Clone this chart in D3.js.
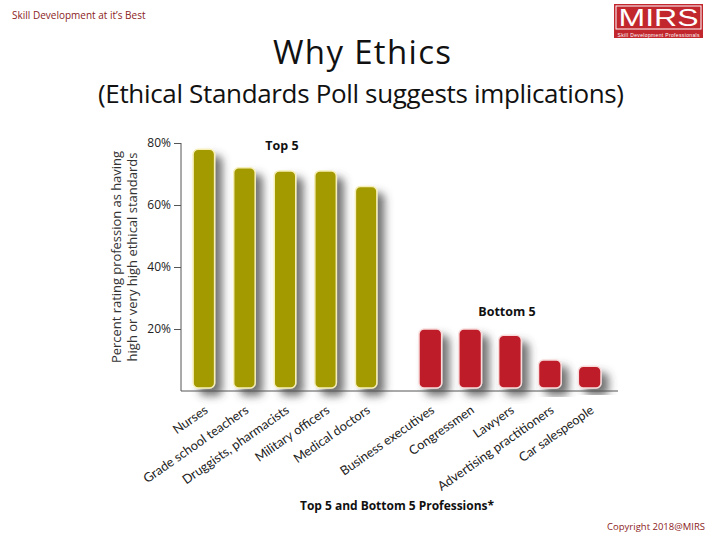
<!DOCTYPE html>
<html>
<head>
<meta charset="utf-8">
<script src="https://cdn.jsdelivr.net/npm/d3@7"></script>
<style>
  body { margin: 0; background: #fff; }
  svg { display: block; }
</style>
</head>
<body>
<svg id="chart" width="720" height="540"></svg>
<script>
// data
let topNames = ["Nurses", "Grade school teachers", "Druggists, pharmacists", "Military officers", "Medical doctors"];
let topValues = [78, 72, 71, 71, 66];
let bottomNames = ["Business executives", "Congressmen", "Lawyers", "Advertising practitioners", "Car salespeople"];
let bottomValues = [20, 20, 18, 10, 8];
let yTicks = [20, 40, 60, 80];

let svg = d3.select("#chart");
let font = "'Open Sans', 'DejaVu Sans', sans-serif";

// drop shadow for bars
let defs = svg.append("defs");
let shadow = defs.append("filter").attr("id", "shadow")
    .attr("x", "-50%").attr("y", "-20%").attr("width", "250%").attr("height", "150%");
shadow.append("feDropShadow")
    .attr("dx", 7).attr("dy", 7).attr("stdDeviation", 4)
    .attr("flood-color", "#444").attr("flood-opacity", 0.75);

// header
svg.append("text")
    .attr("x", 12).attr("y", 19)
    .style("font-family", font).style("font-size", "10px")
    .attr("fill", "#8b1c1c")
    .text("Skill Development at it’s Best");

// logo
let logo = svg.append("g").attr("transform", "translate(614,4)");
logo.append("rect").attr("width", 89).attr("height", 34).attr("fill", "#c1272d");
logo.append("rect").attr("x", 2).attr("y", 2).attr("width", 85).attr("height", 23)
    .attr("fill", "none").attr("stroke", "#fff").attr("stroke-width", 1);
logo.append("text")
    .attr("x", 44.5).attr("y", 22).attr("text-anchor", "middle")
    .style("font-family", "'Liberation Sans', sans-serif").style("font-size", "24px")
    .attr("fill", "#fff").attr("textLength", 80).attr("lengthAdjust", "spacingAndGlyphs")
    .text("MIRS");
logo.append("text")
    .attr("x", 44.5).attr("y", 33).attr("text-anchor", "middle")
    .style("font-family", "'Liberation Sans', sans-serif").style("font-size", "5px")
    .attr("fill", "#fff").attr("textLength", 82)
    .text("Skill Development Professionals");

// titles
svg.append("text")
    .attr("x", 362).attr("y", 64).attr("text-anchor", "middle")
    .style("font-family", font).style("font-size", "33px")
    .attr("fill", "#111")
    .attr("textLength", 178)
    .text("Why Ethics");
svg.append("text")
    .attr("x", 361).attr("y", 103).attr("text-anchor", "middle")
    .style("font-family", font).style("font-size", "26px")
    .attr("fill", "#111")
    .attr("textLength", 526)
    .text("(Ethical Standards Poll suggests implications)");

// scales
let y = d3.scaleLinear().domain([0, 80]).range([391, 143]);
let xTop = d3.scaleBand().domain(topNames).range([185, 385]).paddingInner(0.47).paddingOuter(0.2);
let xBottom = d3.scaleBand().domain(bottomNames).range([411, 609]).paddingInner(0.43).paddingOuter(0.2);

// y axis
let yAxis = d3.axisLeft(y).tickValues(yTicks).tickSize(7).tickFormat(d => d + "%");
let yG = svg.append("g").attr("transform", "translate(181,0)").call(yAxis);
yG.select(".domain").attr("stroke", "#555").attr("d", "M0,143V391");
yG.selectAll(".tick line").attr("stroke", "#555");
yG.selectAll(".tick text")
    .style("font-family", font).style("font-size", "12px").attr("fill", "#222").attr("x", -10);

// y label
let yl = svg.append("text")
    .attr("transform", "translate(121,257) rotate(-90)")
    .attr("text-anchor", "middle")
    .style("font-family", font).style("font-size", "13px").attr("fill", "#333");
yl.append("tspan").attr("x", 0).attr("dy", 0).attr("textLength", 212).text("Percent rating profession as having");
yl.append("tspan").attr("x", 0).attr("dy", 15.5).text("high or very high ethical standards");

function drawBars(names, values, x, fill, edge) {
    let g = svg.append("g");
    g.selectAll("rect")
        .data(names)
        .enter().append("rect")
        .attr("x", d => x(d))
        .attr("y", (d, i) => y(values[i]))
        .attr("width", x.bandwidth())
        .attr("height", (d, i) => 388 - y(values[i]))
        .attr("rx", 5).attr("ry", 5)
        .attr("fill", fill)
        .attr("stroke", edge).attr("stroke-width", 1.5)
        .attr("filter", "url(#shadow)");

    g.selectAll("text")
        .data(names)
        .enter().append("text")
        .attr("transform", d => "translate(" + (x(d) + x.bandwidth() / 2 + 5) + ",412) rotate(-35)")
        .attr("text-anchor", "end")
        .style("font-family", "'Lato', sans-serif").style("font-size", "12.8px")
        .attr("fill", "#222")
        .text(d => d);
}

drawBars(topNames, topValues, xTop, "#a39a02", "#f6efb8");
drawBars(bottomNames, bottomValues, xBottom, "#bf1f2a", "#f8dcdc");

// x axis line
svg.append("line")
    .attr("x1", 181).attr("x2", 618).attr("y1", 391).attr("y2", 391)
    .attr("stroke", "#555").attr("stroke-width", 1);

// group labels
svg.append("text")
    .attr("x", 282).attr("y", 150).attr("text-anchor", "middle")
    .style("font-family", font).style("font-size", "12.5px").style("font-weight", "bold")
    .attr("fill", "#111").text("Top 5");
svg.append("text")
    .attr("x", 507).attr("y", 316).attr("text-anchor", "middle")
    .style("font-family", font).style("font-size", "12.5px").style("font-weight", "bold")
    .attr("fill", "#111").text("Bottom 5");

// footer
svg.append("text")
    .attr("x", 397).attr("y", 510).attr("text-anchor", "middle")
    .style("font-family", font).style("font-size", "12px").style("font-weight", "bold")
    .attr("fill", "#111").attr("textLength", 194)
    .text("Top 5 and Bottom 5 Professions*");
svg.append("text")
    .attr("x", 705).attr("y", 530).attr("text-anchor", "end")
    .style("font-family", font).style("font-size", "9.5px")
    .attr("fill", "#8b1c1c")
    .text("Copyright 2018@MIRS");
</script>
</body>
</html>
